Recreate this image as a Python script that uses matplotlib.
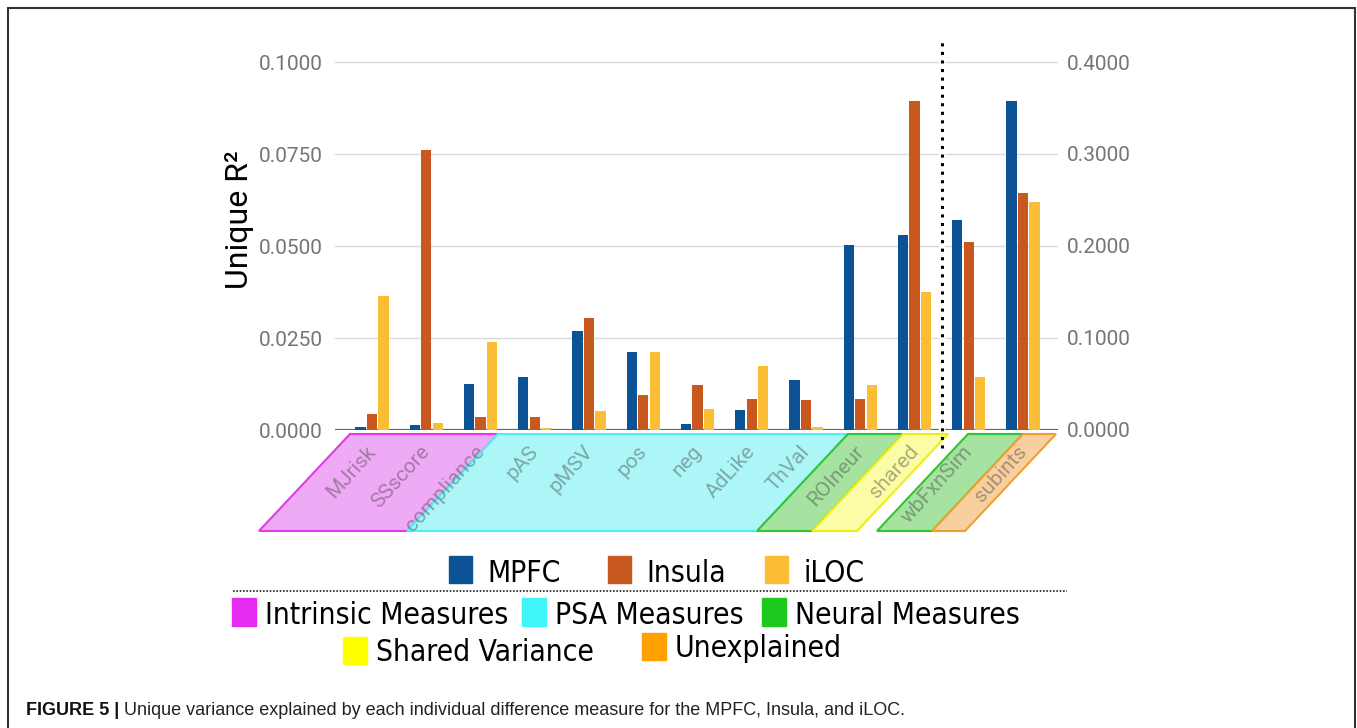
import matplotlib
matplotlib.use("Agg")
import matplotlib.pyplot as plt
import matplotlib.transforms as mtransforms
from matplotlib.patches import Rectangle, Polygon
from matplotlib.lines import Line2D
from matplotlib.ticker import FormatStrFormatter
from matplotlib import font_manager
import numpy as np

plt.rcParams['font.family'] = ['Roboto', 'DejaVu Sans']

measures = ["MJrisk", "SSscore", "compliance", "pAS", "pMSV", "pos", "neg",
            "AdLike", "ThVal", "ROIneur", "shared", "wbFxnSim", "subints"]
mpfc = [0.0007, 0.0014, 0.0125, 0.0145, 0.0268, 0.0212, 0.0016,
        0.0055, 0.0137, 0.0502, 0.0531, 0.2288, 0.3580]
insula = [0.0043, 0.0760, 0.0034, 0.0036, 0.0304, 0.0095, 0.0121,
          0.0084, 0.0081, 0.0084, 0.0895, 0.2045, 0.2571]
iloc = [0.0364, 0.0020, 0.0239, 0.0005, 0.0052, 0.0212, 0.0057,
        0.0175, 0.0009, 0.0121, 0.0376, 0.0580, 0.2477]
n_left = 11

rois = ["MPFC", "Insula", "iLOC"]
roi_colors = ["#0b5394", "#c9581e", "#fbbd36"]

region_names = ["Intrinsic Measures", "PSA Measures", "Neural Measures",
                "Shared Variance", "Unexplained"]
region_colors = ["#e62bf0", "#40f5f8", "#1ec81e", "#ffff00", "#ffa000"]

# label band pieces: (top-left x, top-right x, fill, edge)
bands = [(-0.406, 2.323, "#eeaaf4", "#e03ce8"),
         (2.323, 8.774, "#acf6f8", "#50eef6"),
         (8.774, 9.788, "#a6e3a0", "#33c433"),
         (9.788, 10.618, "#fbfca6", "#eeee10"),
         (10.986, 12.0, "#a6e3a0", "#33c433"),
         (12.0, 12.608, "#f8cf9f", "#f0a030")]

W, H = 1357, 728
fig = plt.figure(figsize=(W / 100, H / 100), dpi=100)
fig.patch.set_facecolor("white")

ax = fig.add_axes([335 / W, 1 - 430 / H, 723 / W, 393 / H])
ax2 = ax.twinx()

x = np.arange(len(measures))
bw = 0.185
offs = [-0.212, 0, 0.212]
for vals, off, c in zip([mpfc, insula, iloc], offs, roi_colors):
    ax.bar(x[:n_left] + off, vals[:n_left], bw, color=c, zorder=3)
    ax2.bar(x[n_left:] + off, vals[n_left:], bw, color=c, zorder=3)

ax.set_xlim(-0.682, 12.645)
ax.set_ylim(0, 0.1 * 393 / 368)
ax2.set_ylim(0, 0.4 * 393 / 368)
ax.set_yticks(np.arange(0, 0.1001, 0.025))
ax2.set_yticks(np.arange(0, 0.4001, 0.1))
ax.yaxis.set_major_formatter(FormatStrFormatter('%.4f'))
ax2.yaxis.set_major_formatter(FormatStrFormatter('%.4f'))
ax.set_xticks([])
ax.grid(axis='y', color='#dadada', lw=1)
ax.set_axisbelow(True)
for a in (ax, ax2):
    for s in a.spines.values():
        s.set_visible(False)
ax.tick_params(axis='y', length=0, pad=8.6, labelsize=15, labelcolor='#757575')
ax2.tick_params(axis='y', length=0, pad=6.5, labelsize=15, labelcolor='#757575')

ax.axhline(0, color='#666666', lw=1.6, zorder=2)
ax.axvline(10.5, color='white', lw=4.5, zorder=2.5)
trans = mtransforms.blended_transform_factory(ax.transData, ax.transAxes)
ax.plot([10.5, 10.5], [-0.045, 0.995], transform=trans, color='black', lw=2.2,
        ls=(0, (1, 1.8)), clip_on=False, zorder=6)

fig.text(240 / W, 1 - 220 / H, "Unique R²", rotation=90, ha='center',
         va='center', fontsize=23, color='black')

# slanted label band under the axis
top_y, bot_y = -0.0102, -0.257
shift = 91 / 54.25
for x0, x1, fc, ec in bands:
    ax.add_patch(Polygon([(x0, top_y), (x1, top_y), (x1 - shift, bot_y), (x0 - shift, bot_y)],
                         closed=True, transform=trans, facecolor=fc, edgecolor=ec,
                         lw=1.5, clip_on=False, zorder=1))
for i, m in enumerate(measures):
    ax.text(i - 0.12, -0.03, m, transform=trans, ha='right', va='top', rotation=48,
            rotation_mode='anchor', fontsize=15, color='#3a3a3a', alpha=0.42,
            clip_on=False, zorder=2)

# legend font (condensed if the system has it)
cond = [f.fname for f in font_manager.fontManager.ttflist
        if f.fname.endswith("DejaVuSansCondensed.ttf")]
if cond:
    leg_font = font_manager.FontProperties(fname=cond[0], size=21.5)
else:
    leg_font = font_manager.FontProperties(family='DejaVu Sans', size=19.5)


def legend_item(x0, y0, y1, color, label, base):
    fig.add_artist(Rectangle((x0 / W, 1 - y1 / H), 23 / W, (y1 - y0) / H,
                             transform=fig.transFigure, color=color))
    fig.text((x0 + 38) / W, 1 - base / H, label, fontproperties=leg_font,
             ha='left', va='baseline', color='black')


for xs, name, c in zip([449, 608, 765], rois, roi_colors):
    legend_item(xs, 556, 583, c, name, 582)

fig.add_artist(Line2D([233 / W, 1067 / W], [1 - 591 / H, 1 - 591 / H],
                      transform=fig.transFigure, color='#222222', lw=1.2,
                      ls=(0, (1, 1))))

reg_pos = [(232, 598, 626, 624), (522, 598, 626, 624), (762, 598, 626, 624),
           (343, 637, 664, 661), (642, 633, 660, 657)]
for (xs, y0, y1, base), name, c in zip(reg_pos, region_names, region_colors):
    fig.add_artist(Rectangle((xs / W, 1 - y1 / H), 24 / W, (y1 - y0) / H,
                             transform=fig.transFigure, color=c))
    fig.text((xs + 33) / W, 1 - base / H, name, fontproperties=leg_font,
             ha='left', va='baseline', color='black')

# caption
renderer = fig.canvas.get_renderer()
t1 = fig.text(26 / W, 1 - 715 / H, "FIGURE 5 |", family='Liberation Sans',
              fontweight='bold', fontsize=13, va='baseline', color='#111111')
bb = t1.get_window_extent(renderer)
fig.text((bb.x1 + 5) / W, 1 - 715 / H,
         "Unique variance explained by each individual difference measure for the MPFC, Insula, and iLOC.",
         family='Liberation Sans', fontsize=13, va='baseline', color='#222222')

# outer frame
fig.add_artist(Rectangle((8 / W, -0.05), (1355 - 8) / W, 1.05 - 8 / H,
                         transform=fig.transFigure, fill=False,
                         edgecolor='#333333', lw=1.5, clip_on=False))

fig.savefig("out.png", dpi=100)
